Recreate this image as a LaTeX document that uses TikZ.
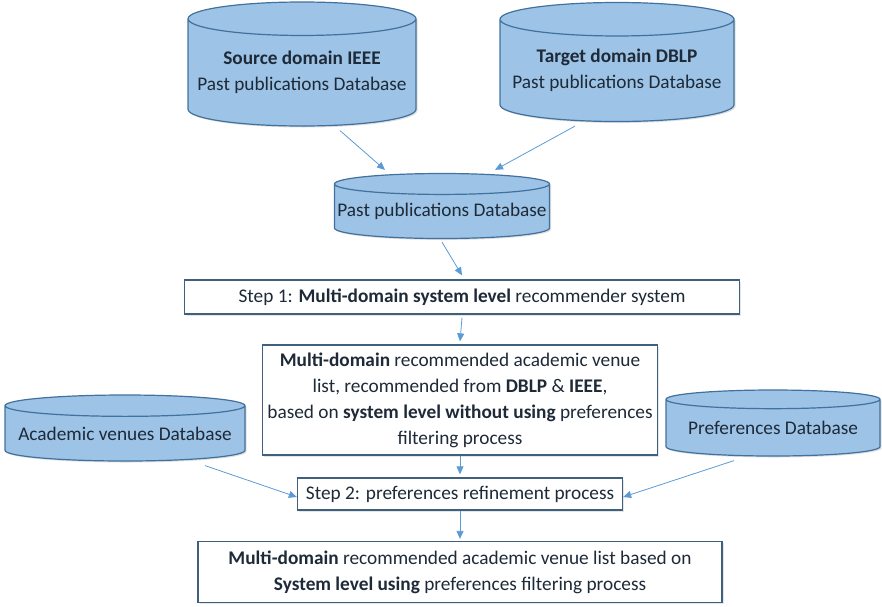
\documentclass[tikz,border=0pt]{standalone}
\usepackage{fontspec}
\setmainfont{Carlito}
\usetikzlibrary{shapes.geometric,shadows,arrows.meta,calc}

\definecolor{dbfill}{HTML}{9DC3E6}
\definecolor{dbline}{HTML}{41719C}
\definecolor{boxline}{HTML}{3F5F7F}
\definecolor{flow}{HTML}{5B9BD5}
\definecolor{ink}{HTML}{1E2A38}

\begin{document}
\begin{tikzpicture}[x=1pt, y=-1pt,
    db/.style={cylinder, shape border rotate=90, draw=dbline, fill=dbfill, line width=1.2pt,
        drop shadow={opacity=0.25, shadow xshift=1.5pt, shadow yshift=-1.5pt},
        text centered, align=center, text=ink, inner sep=0pt, anchor=shape center},
    stepbox/.style={rectangle, draw=boxline, fill=white, line width=1.3pt,
        drop shadow={opacity=0.2, shadow xshift=1.5pt, shadow yshift=-1.5pt},
        text centered, align=center, text=ink, inner sep=0pt},
    flowarrow/.style={-{Triangle[length=8pt,width=7pt]}, draw=flow, line width=0.8pt},
    font=\fontsize{19.3}{26}\selectfont
]
\useasboundingbox (0,0) rectangle (882,606);

% databases
\node [db, aspect=0.16, minimum width=228pt, minimum height=124pt] (src) at (302,64)
    {\textbf{Source domain IEEE}\\Past publications Database};
\node [db, aspect=0.16, minimum width=234pt, minimum height=119pt] (tgt) at (617,62)
    {\textbf{Target domain DBLP}\\Past publications Database};
\node [db, aspect=0.1, minimum width=215pt, minimum height=65pt] (pub) at (442,206)
    {Past publications Database};
\node [db, aspect=0.1, minimum width=240pt, minimum height=66pt] (venues) at (125,428)
    {Academic venues Database};
\node [db, aspect=0.11, minimum width=214pt, minimum height=66pt] (prefs) at (773,423)
    {Preferences Database};

% process boxes
\node [stepbox, minimum width=555pt, minimum height=34pt] (step1) at (462,297)
    {Step 1: \textbf{Multi-domain system level} recommender system};
\node [stepbox, minimum width=395pt, minimum height=110pt] (list) at (460,400)
    {\textbf{Multi-domain} recommended academic venue\\
     list, recommended from \textbf{DBLP} \& \textbf{IEEE},\\
     based on \textbf{system level without using} preferences\\
     filtering process};
\node [stepbox, minimum width=325pt, minimum height=32pt] (step2) at (460,494)
    {Step 2: preferences refinement process};
\node [stepbox, minimum width=524pt, minimum height=61pt] (final) at (460,572)
    {\textbf{Multi-domain} recommended academic venue list based on\\
     \textbf{System level using} preferences filtering process};

% connectors
\draw [flowarrow] ([xshift=38pt, yshift=-4pt]src.south) -- ([xshift=-57pt, yshift=3pt]pub.north);
\draw [flowarrow] ([xshift=-42pt, yshift=-4pt]tgt.south) -- ([xshift=53pt, yshift=3pt]pub.north);
\draw [flowarrow] ([yshift=-3pt]pub.south) -- ([yshift=4pt]step1.north);
\draw [flowarrow] ([yshift=-3pt]step1.south) -- ([yshift=3pt]list.north);
\draw [flowarrow] (list.south) -- ([yshift=3pt]step2.north);
\draw [flowarrow] (step2.south) -- ([yshift=2pt]final.north);
\draw [flowarrow] ([xshift=80pt, yshift=-4pt]venues.south) -- ([yshift=-3pt]step2.west);
\draw [flowarrow] ([xshift=-39pt, yshift=-4pt]prefs.south) -- ([yshift=-3pt]step2.east);

\end{tikzpicture}
\end{document}
